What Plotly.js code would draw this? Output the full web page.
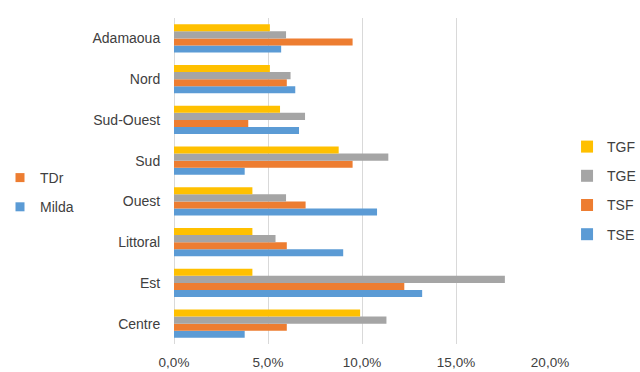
<!DOCTYPE html>
<html>
<head>
<meta charset="utf-8">
<script src="https://cdn.plot.ly/plotly-3.0.1.min.js"></script>
<style>
  html, body { margin: 0; padding: 0; background: #fff; }
  #chart { width: 640px; height: 372px; }
</style>
</head>
<body>
<div id="chart"></div>
<script>
// Regions, listed bottom to top on the category axis
const regions = ["Centre", "Est", "Littoral", "Ouest", "Sud", "Sud-Ouest", "Nord", "Adamaoua"];

// Rates per region (fractions)
const tse = [0.0376, 0.132, 0.090, 0.108, 0.0376, 0.0665, 0.0645, 0.057];
const tsf = [0.060, 0.1225, 0.060, 0.070, 0.095, 0.0395, 0.060, 0.095];
const tge = [0.113, 0.176, 0.054, 0.0596, 0.114, 0.0697, 0.062, 0.0596];
const tgf = [0.099, 0.0417, 0.0417, 0.0417, 0.0876, 0.0564, 0.051, 0.051];

const seriesNames = ["TSE", "TSF", "TGE", "TGF"];
const seriesValues = [tse, tsf, tge, tgf];
const seriesColors = ["#5B9BD5", "#ED7D31", "#A5A5A5", "#FFC000"];

// Secondary legend entries (legend-only, no marks on the plot)
const extraNames = ["TDr", "Milda"];
const extraColors = ["#ED7D31", "#5B9BD5"];

// Bars stack bottom-to-top in trace order; the legend lists them top-down (TGF first)
const traces = seriesNames.map((name, i) => ({
  type: "bar",
  orientation: "h",
  name: name,
  legendgroup: name,
  legendrank: seriesNames.length - i,
  x: seriesValues[i],
  y: regions,
  marker: { color: seriesColors[i] },
  hoverinfo: "x+y+name"
}));

extraNames.forEach((name, i) => {
  traces.push({
    type: "scatter",
    mode: "markers",
    name: name,
    legendgroup: name,
    x: [null],
    y: [null],
    marker: { color: extraColors[i], symbol: "square", size: 9 },
    legend: "legend2",
    hoverinfo: "skip"
  });
});

const font = { family: "Liberation Sans, Arial, sans-serif", size: 14, color: "#404040" };

const layout = {
  width: 640,
  height: 372,
  margin: { l: 174, r: 90, t: 17.6, b: 27.6 },
  paper_bgcolor: "#ffffff",
  plot_bgcolor: "#ffffff",
  font: font,
  separators: ",.",
  barmode: "group",
  bargap: 0.31,
  bargroupgap: 0,
  showlegend: true,
  xaxis: {
    range: [0, 0.2],
    tickvals: [0, 0.05, 0.1, 0.15, 0.2],
    tickformat: ".1%",
    showgrid: true,
    gridcolor: "#D9D9D9",
    gridwidth: 1,
    zeroline: true,
    zerolinecolor: "#D9D9D9",
    zerolinewidth: 1,
    showline: false,
    ticks: "outside",
    ticklen: 6,
    tickcolor: "rgba(0,0,0,0)",
    tickfont: { size: 13.5, color: "#404040" },
    fixedrange: true
  },
  yaxis: {
    type: "category",
    categoryorder: "array",
    categoryarray: regions,
    range: [-0.5, 7.5],
    showgrid: false,
    zeroline: false,
    showline: false,
    ticks: "outside",
    ticklen: 10,
    tickcolor: "rgba(0,0,0,0)",
    tickfont: { size: 14, color: "#404040" },
    fixedrange: true
  },
  legend: {
    traceorder: "grouped",
    xref: "container",
    yref: "container",
    x: 0.886,
    xanchor: "left",
    y: 1 - 131 / 372,
    yanchor: "top",
    font: { size: 14, color: "#404040" },
    bgcolor: "rgba(0,0,0,0)",
    itemwidth: 30,
    tracegroupgap: 8
  },
  legend2: {
    traceorder: "grouped",
    xref: "container",
    yref: "container",
    x: 0,
    xanchor: "left",
    y: 1 - 162 / 372,
    yanchor: "top",
    font: { size: 14, color: "#404040" },
    bgcolor: "rgba(0,0,0,0)",
    itemwidth: 30,
    tracegroupgap: 8
  }
};

Plotly.newPlot("chart", traces, layout, { displayModeBar: false, staticPlot: true });
</script>
</body>
</html>
